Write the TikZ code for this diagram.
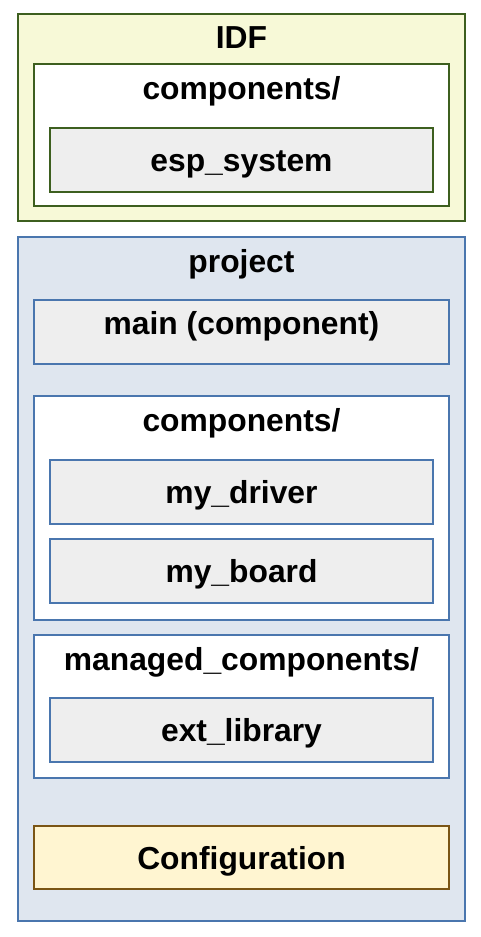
\documentclass[tikz,border=0pt]{standalone}
\usepackage{fontspec}
\setmainfont{Liberation Sans}
\usetikzlibrary{positioning}

\definecolor{idffill}{HTML}{F7F9D7}
\definecolor{idfline}{HTML}{3D5F1F}
\definecolor{projfill}{HTML}{DFE6EF}
\definecolor{projline}{HTML}{4A76AE}
\definecolor{leaffill}{HTML}{EEEEEE}
\definecolor{conffill}{HTML}{FFF5D1}
\definecolor{confline}{HTML}{7A5515}

\begin{document}
\begin{tikzpicture}[
    x=1pt, y=-1pt,
    font=\fontsize{31.8}{38}\selectfont\bfseries,
    box/.style={rectangle, draw, line width=2pt, inner sep=0pt, minimum width=383pt, minimum height=64pt, text height=23pt, text depth=0pt},
    idfbox/.style={box, draw=idfline},
    projbox/.style={box, draw=projline},
    leafbox/.style={fill=leaffill},
    title/.style={inner sep=0pt, anchor=base}
]
    \useasboundingbox (0,0) rectangle (480,937);

    % IDF side
    \node[idfbox, fill=idffill, minimum width=447pt, minimum height=207pt] (idf) at (241.5,117.5) {};
    \node[title] (idftitle) at ([yshift=-35pt]idf.north) {IDF};
    \node[idfbox, fill=white, minimum width=415pt, minimum height=142pt] (idfcomp) at (241.5,135) {};
    \node[title] (idfcomptitle) at ([yshift=-36pt]idfcomp.north) {components/};
    \node[idfbox, leafbox] (espsystem) at (241.5,160) {esp\_system};

    % project side
    \node[projbox, fill=projfill, minimum width=447pt, minimum height=684pt] (project) at (241.5,579) {};
    \node[title] (projecttitle) at ([yshift=-36pt]project.north) {project};
    \node[projbox, leafbox, minimum width=415pt, minimum height=64pt] (main) at (241.5,332) {};
    \node[title] (maintitle) at ([yshift=-35pt]main.north) {main (component)};

    \node[projbox, fill=white, minimum width=415pt, minimum height=224pt] (projcomp) at (241.5,508) {};
    \node[title] (projcomptitle) at ([yshift=-36pt]projcomp.north) {components/};
    \node[projbox, leafbox] (mydriver) at (241.5,491.5) {my\_driver};
    \node[projbox, leafbox] (myboard) at (241.5,571) {my\_board};

    \node[projbox, fill=white, minimum width=415pt, minimum height=143pt] (managed) at (241.5,706.5) {};
    \node[title] (managedtitle) at ([yshift=-36pt]managed.north) {managed\_components/};
    \node[projbox, leafbox] (extlibrary) at (241.5,730) {ext\_library};

    \node[box, draw=confline, fill=conffill, minimum width=415pt, minimum height=63pt] (config) at (241.5,857.5) {Configuration};

\end{tikzpicture}
\end{document}
